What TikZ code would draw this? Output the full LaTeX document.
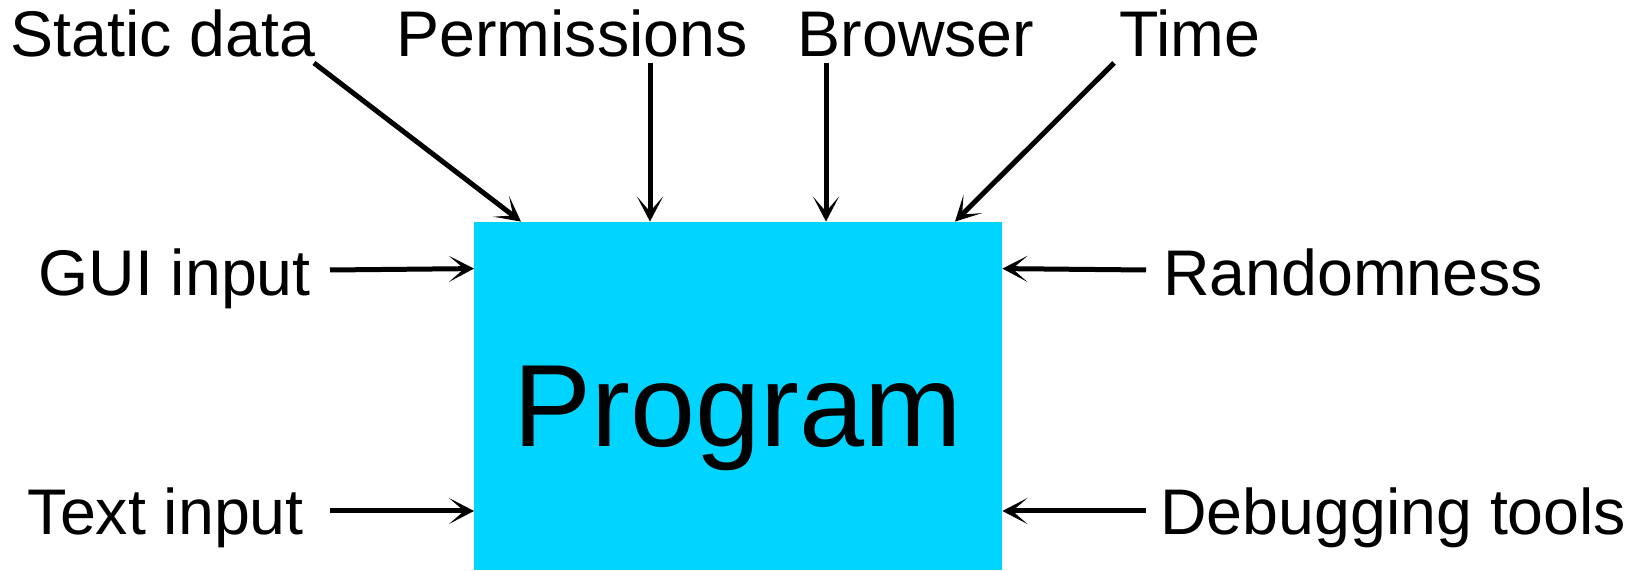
\documentclass[tikz,border=0pt]{standalone}
\usepackage{fontspec}
\setmainfont{Liberation Sans}
\usetikzlibrary{arrows.meta,calc}
\definecolor{progcyan}{RGB}{0,212,255}
\begin{document}
\begin{tikzpicture}[x=1pt,y=1pt,
  lbl/.style={inner sep=0pt, font=\fontsize{64.5}{64.5}\selectfont},
  arr/.style={line width=5pt, -{Stealth[length=25pt,width=26pt,inset=15pt]}},
  ]
\useasboundingbox (0,0) rectangle (1635,570);

% central block
\node[fill=progcyan, minimum width=528pt, minimum height=348pt, inner sep=0pt,
      anchor=south west] (prog) at (474,0) {};
\node[anchor=base, inner sep=0pt, font=\fontsize{117}{117}\selectfont]
      (progtxt) at (738,123) {Program};

% input labels
\node[lbl, anchor=base] (static) at (163,513) {Static data};
\node[lbl, anchor=base] (perm)   at (572,513) {Permissions};
\node[lbl, anchor=base] (brow)   at (916,513) {Browser};
\node[lbl, anchor=base] (time)   at (1190,513) {Time};
\node[lbl, anchor=base east] (gui)  at (311,274) {GUI input};
\node[lbl, anchor=base east] (text) at (304,35)  {Text input};
\node[lbl, anchor=base west] (rand) at (1163,274) {Randomness};
\node[lbl, anchor=base west] (dbg)  at (1160,35)  {Debugging tools};

% arrow tails
\coordinate (t1) at (314,507);
\coordinate (t2) at (650,507);
\coordinate (t3) at (826,507);
\coordinate (t4) at (1114,507);
\coordinate (t5) at (330,300);
\coordinate (t6) at (330,59);
\coordinate (t7) at (1146,300);
\coordinate (t8) at (1146,59);

% arrows into the block
\draw[arr] (t1) -- ($(prog.north west)+(47,0)$);
\draw[arr] (t2) -- ($(prog.north west)+(176,0)$);
\draw[arr] (t3) -- ($(prog.north west)+(352,0)$);
\draw[arr] (t4) -- ($(prog.north west)+(481,0)$);
\draw[arr] (t5) -- ($(prog.north west)+(0,-47)$);
\draw[arr] (t6) -- ($(prog.south west)+(0,59)$);
\draw[arr] (t7) -- ($(prog.north east)+(0,-47)$);
\draw[arr] (t8) -- ($(prog.south east)+(0,59)$);
\end{tikzpicture}
\end{document}
